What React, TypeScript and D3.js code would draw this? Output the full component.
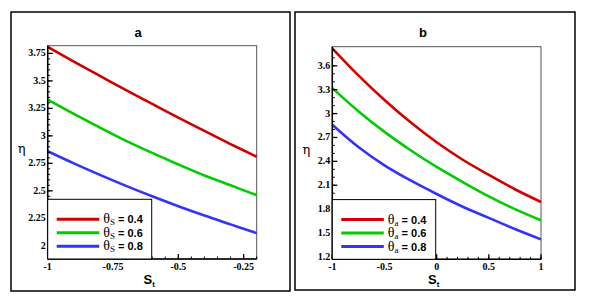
import React, { useEffect, useRef } from 'react';
import * as d3 from 'd3';

// 读图得到的数据
const xA = [-1, -0.9, -0.8, -0.7, -0.6, -0.5, -0.4, -0.3, -0.2];
const redA = [3.81, 3.675, 3.545, 3.415, 3.29, 3.165, 3.045, 2.925, 2.81];
const greenA = [3.33, 3.2, 3.075, 2.955, 2.845, 2.74, 2.64, 2.55, 2.46];
const blueA = [2.86, 2.75, 2.645, 2.545, 2.45, 2.36, 2.275, 2.195, 2.115];

const xB = [-1, -0.75, -0.5, -0.25, 0, 0.25, 0.5, 0.75, 1];
const redB = [3.82, 3.48, 3.17, 2.89, 2.64, 2.42, 2.23, 2.05, 1.89];
const greenB = [3.32, 3.03, 2.77, 2.54, 2.33, 2.14, 1.96, 1.8, 1.66];
const blueB = [2.86, 2.58, 2.35, 2.16, 1.99, 1.83, 1.69, 1.55, 1.42];

const legendValues = ['0.4', '0.6', '0.8'];
const colors = ['#d00000', '#00cc00', '#3333ff'];

const xTicksA = [-1, -0.75, -0.5, -0.25];
const yTicksA = [2, 2.25, 2.5, 2.75, 3, 3.25, 3.5, 3.75];
const xTicksB = [-1, -0.5, 0, 0.5, 1];
const yTicksB = [1.2, 1.5, 1.8, 2.1, 2.4, 2.7, 3, 3.3, 3.6];

const panels = [
  {
    title: 'a', titleX: 138, sub: 'S',
    frame: [11, 12, 290, 291], plot: [47.7, 45.7, 256.7, 259],
    xDomain: [-1, -0.2], yDomain: [1.88, 3.82],
    xTicks: xTicksA, yTicks: yTicksA, xMinor: 0.05, yMinor: 0.05,
    x: xA, series: [redA, greenA, blueA], legendW: 104,
  },
  {
    title: 'b', titleX: 423, sub: 'a',
    frame: [295, 12, 575, 290], plot: [332.3, 46.7, 541, 259.3],
    xDomain: [-1, 1], yDomain: [1.17, 3.84],
    xTicks: xTicksB, yTicks: yTicksB, xMinor: 0.1, yMinor: 0.1,
    x: xB, series: [redB, greenB, blueB], legendW: 103.4,
  },
];

export default function App() {
  const ref = useRef<SVGSVGElement>(null);

  useEffect(() => {
    const svg = d3.select(ref.current);
    svg.selectAll('*').remove();

    panels.forEach((p) => {
      const [fx0, fy0, fx1, fy1] = p.frame;
      const [px0, py0, px1, py1] = p.plot;
      const g = svg.append('g');

      // 外框
      g.append('rect')
        .attr('x', fx0).attr('y', fy0)
        .attr('width', fx1 - fx0).attr('height', fy1 - fy0)
        .attr('fill', 'none').attr('stroke', '#000').attr('stroke-width', 1.5);

      const x = d3.scaleLinear().domain(p.xDomain).range([px0, px1]);
      const y = d3.scaleLinear().domain(p.yDomain).range([py1, py0]);

      // 绘图区边框
      g.append('rect')
        .attr('x', px0).attr('y', py0)
        .attr('width', px1 - px0).attr('height', py1 - py0)
        .attr('fill', 'none').attr('stroke', '#555').attr('stroke-width', 1);

      // 曲线
      const line = d3.line<number>()
        .x((d, i) => x(p.x[i]))
        .y((d) => y(d))
        .curve(d3.curveCatmullRom);
      p.series.forEach((s, i) => {
        g.append('path')
          .attr('d', line(s))
          .attr('fill', 'none')
          .attr('stroke', colors[i])
          .attr('stroke-width', 2.6);
      });

      // y 轴刻度（向内）
      const yMinor = d3.range(Math.ceil(p.yDomain[0] / p.yMinor) * p.yMinor, p.yDomain[1], p.yMinor);
      yMinor.forEach((v) => {
        g.append('line')
          .attr('x1', px0).attr('x2', px0 + 2.5)
          .attr('y1', y(v)).attr('y2', y(v))
          .attr('stroke', '#000').attr('stroke-width', 1);
      });
      p.yTicks.forEach((v) => {
        g.append('line')
          .attr('x1', px0).attr('x2', px0 + 5)
          .attr('y1', y(v)).attr('y2', y(v))
          .attr('stroke', '#000').attr('stroke-width', 1.3);
        g.append('text')
          .attr('x', px0 - 2).attr('y', y(v) + 3)
          .attr('text-anchor', 'end')
          .attr('font-family', 'Liberation Serif, serif')
          .attr('font-weight', 'bold')
          .attr('font-size', 10)
          .text(String(v));
      });

      // x 轴刻度（向内）
      const xMinor = d3.range(p.xDomain[0], p.xDomain[1] + 1e-9, p.xMinor);
      xMinor.forEach((v) => {
        g.append('line')
          .attr('x1', x(v)).attr('x2', x(v))
          .attr('y1', py1).attr('y2', py1 - 2.5)
          .attr('stroke', '#000').attr('stroke-width', 1);
      });
      p.xTicks.forEach((v) => {
        g.append('line')
          .attr('x1', x(v)).attr('x2', x(v))
          .attr('y1', py1).attr('y2', py1 - 5)
          .attr('stroke', '#000').attr('stroke-width', 1.3);
        g.append('text')
          .attr('x', x(v)).attr('y', py1 + 11)
          .attr('text-anchor', 'middle')
          .attr('font-family', 'Liberation Serif, serif')
          .attr('font-weight', 'bold')
          .attr('font-size', 10)
          .text(String(v));
      });

      // 轴线
      g.append('line')
        .attr('x1', px0).attr('x2', px0).attr('y1', py0).attr('y2', py1)
        .attr('stroke', '#000').attr('stroke-width', 1.5);
      g.append('line')
        .attr('x1', px0).attr('x2', px1).attr('y1', py1).attr('y2', py1)
        .attr('stroke', '#000').attr('stroke-width', 1.5);

      // 标题
      g.append('text')
        .attr('x', p.titleX).attr('y', 37)
        .attr('text-anchor', 'middle')
        .attr('font-family', 'Liberation Sans, Arial, sans-serif')
        .attr('font-weight', 'bold')
        .attr('font-size', 13)
        .text(p.title);

      // 坐标轴名称
      const xl = g.append('text')
        .attr('x', (px0 + px1) / 2 - 3).attr('y', py1 + 25)
        .attr('text-anchor', 'middle')
        .attr('font-family', 'Liberation Sans, Arial, sans-serif')
        .attr('font-weight', 'bold')
        .attr('font-size', 13);
      xl.append('tspan').text('S');
      xl.append('tspan').attr('font-size', 8).attr('dy', 3).text('t');

      g.append('text')
        .attr('x', px0 - 26).attr('y', (py0 + py1) / 2 + 1)
        .attr('text-anchor', 'middle')
        .attr('font-family', 'DejaVu Serif, serif')
        .attr('font-size', 13)
        .text('η');

      // 图例
      const ly0 = py1 - 59.7;
      g.append('rect')
        .attr('x', px0).attr('y', ly0)
        .attr('width', p.legendW).attr('height', py1 - ly0)
        .attr('fill', '#fff').attr('stroke', '#000').attr('stroke-width', 1);
      legendValues.forEach((v, i) => {
        const ly = ly0 + 20 + i * 13.5;
        g.append('line')
          .attr('x1', px0 + 9).attr('x2', px0 + 51.5)
          .attr('y1', ly).attr('y2', ly)
          .attr('stroke', colors[i]).attr('stroke-width', 3);
        const t = g.append('text')
          .attr('x', px0 + 55.5).attr('y', ly + 4)
          .attr('font-family', 'Liberation Sans, Arial, sans-serif')
          .attr('font-weight', 'bold')
          .attr('font-size', 11);
        t.append('tspan')
          .attr('font-family', 'Liberation Serif, serif')
          .attr('font-weight', 'normal')
          .attr('font-size', 14)
          .text('θ');
        t.append('tspan')
          .attr('font-family', 'Liberation Serif, serif')
          .attr('font-weight', 'normal')
          .attr('font-size', 9)
          .attr('dy', 2)
          .text(p.sub);
        t.append('tspan')
          .attr('dy', -2)
          .text(' = ' + v);
      });
    });
  }, []);

  return (
    <svg
      ref={ref}
      width={589}
      height={296}
      style={{ position: 'absolute', left: 0, top: 0, background: '#fff' }}
    />
  );
}
